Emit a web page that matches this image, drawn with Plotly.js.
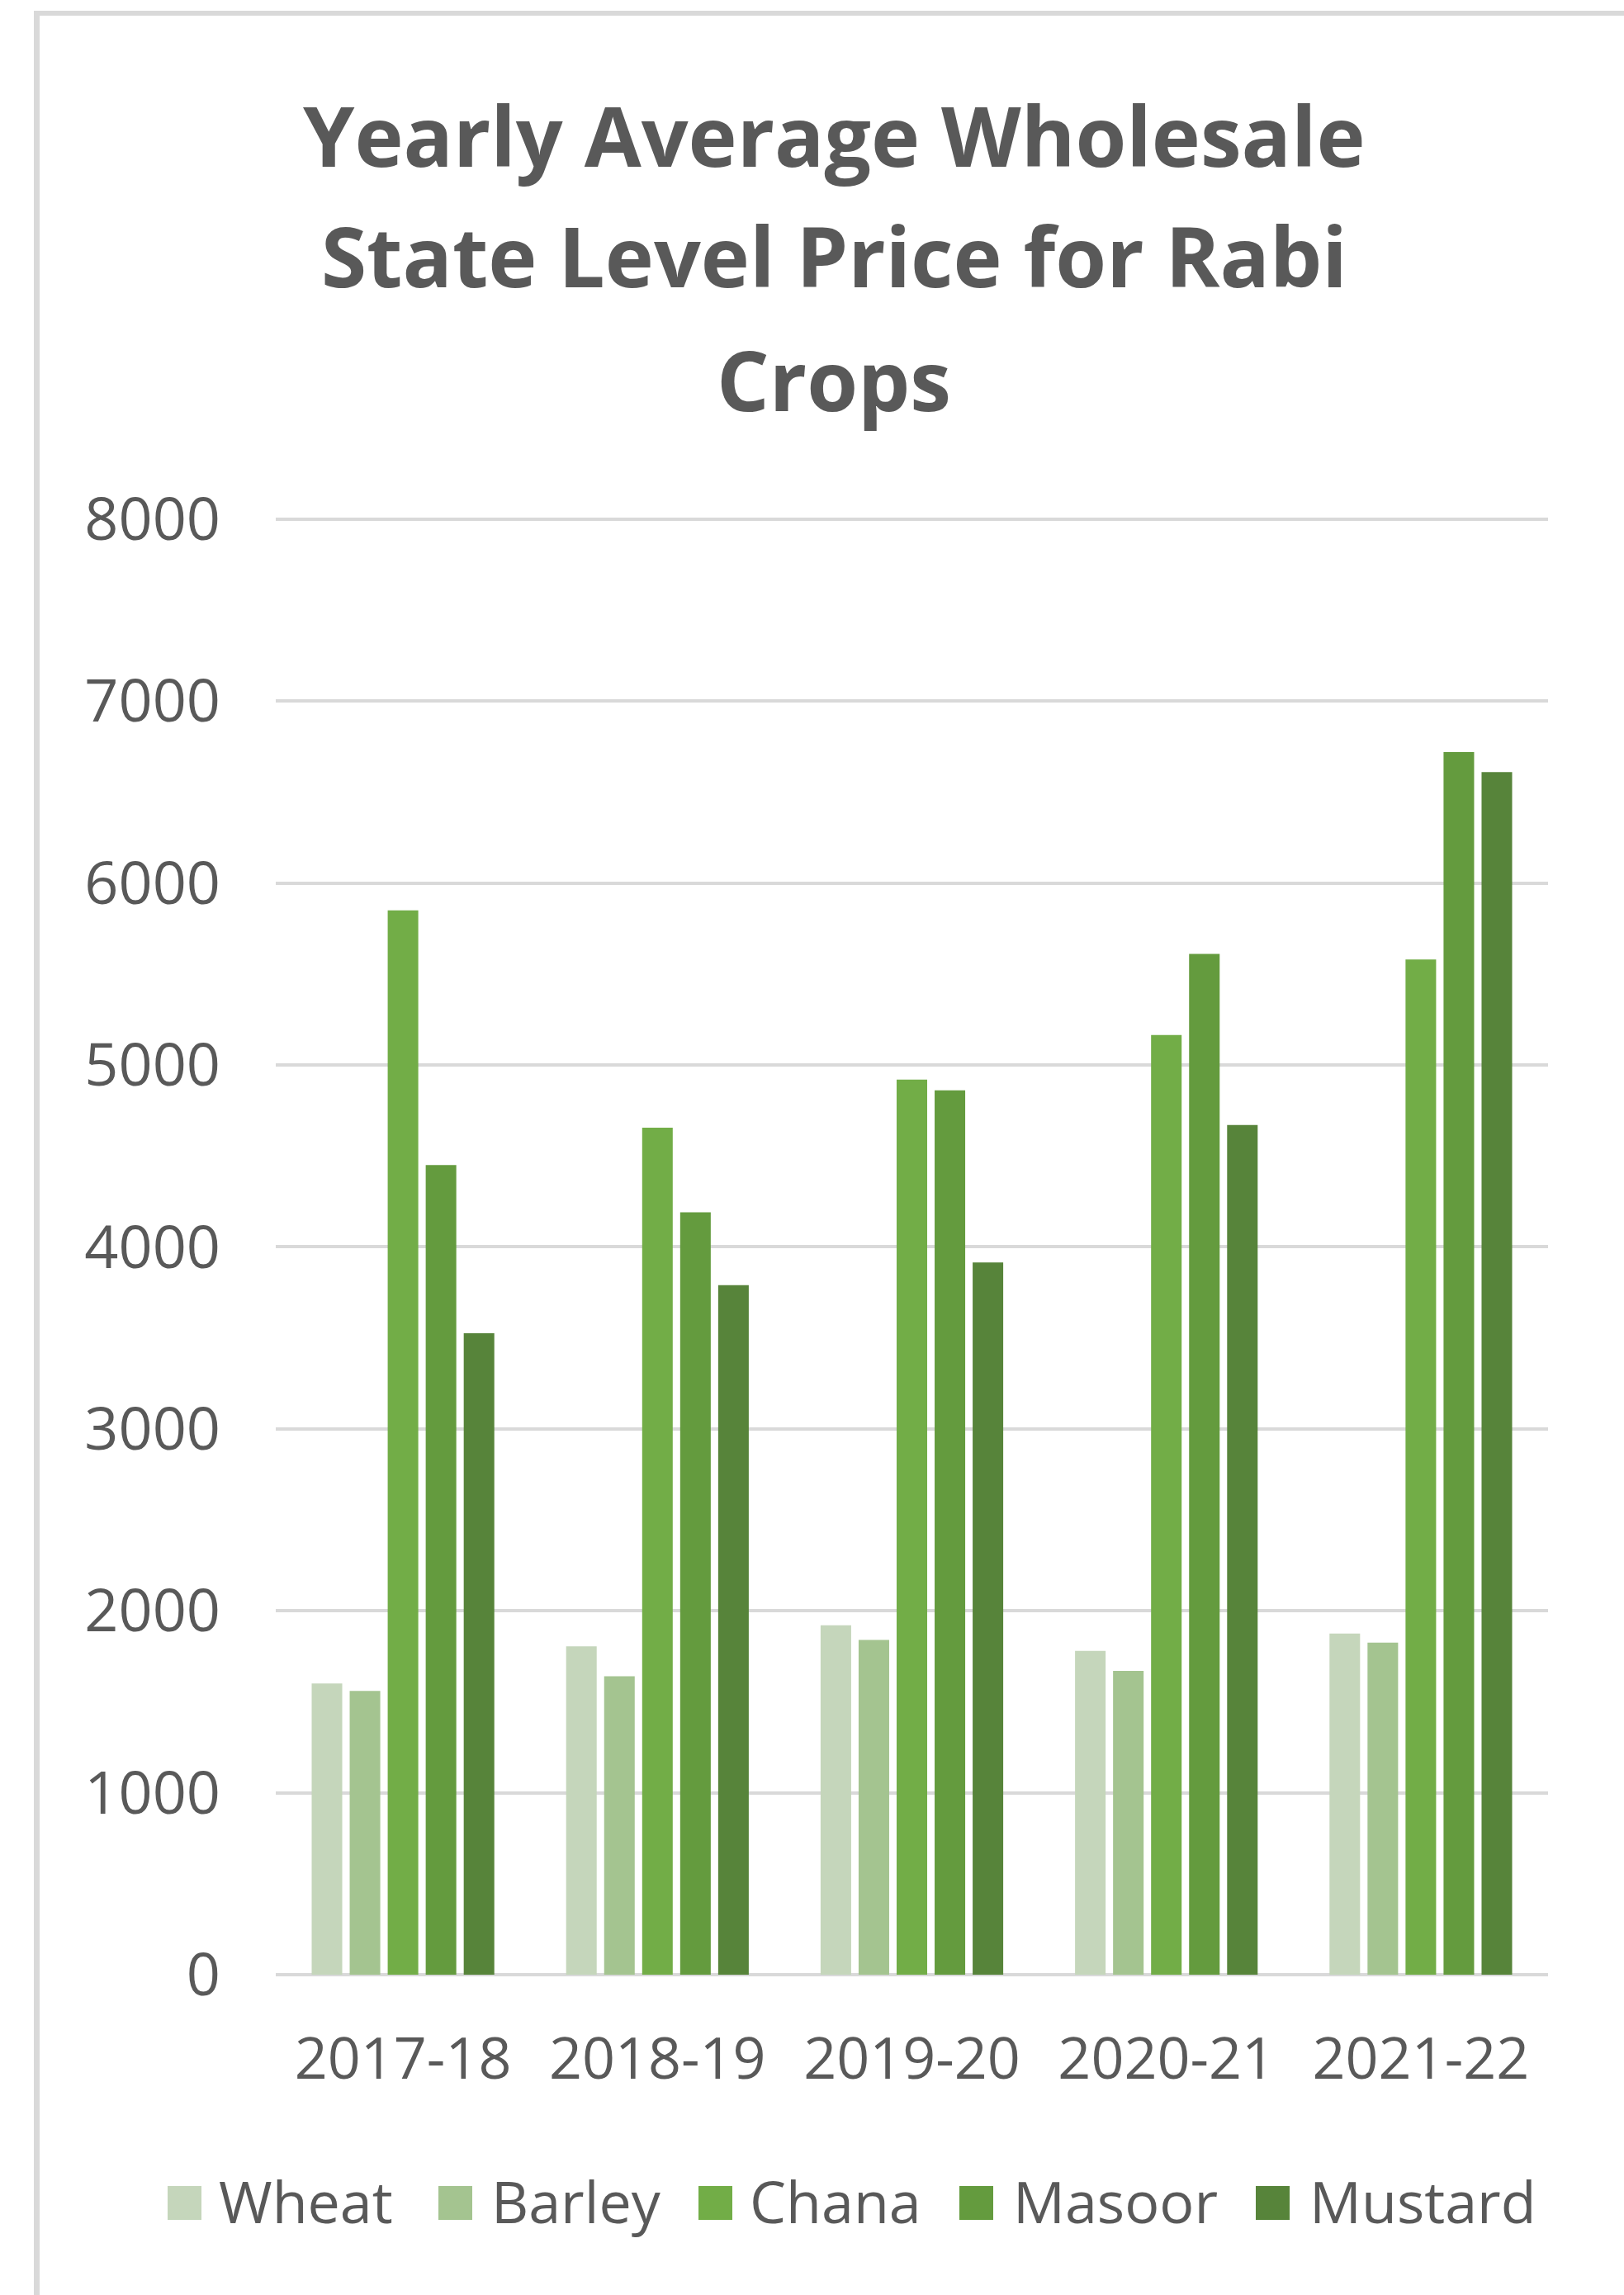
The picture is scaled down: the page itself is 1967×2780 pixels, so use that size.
<!DOCTYPE html>
<html>
<head>
<meta charset="utf-8">
<script src="https://cdn.plot.ly/plotly-3.0.1.min.js"></script>
<style>
  html, body { margin: 0; padding: 0; background: #ffffff; }
  #frame { position: absolute; left: 41px; top: 13px; width: 2000px; height: 2900px;
           border-left: 7px solid #d9d9d9; border-top: 6px solid #d9d9d9; box-sizing: border-box; }
  #chart { position: absolute; left: 0; top: 0; width: 1967px; height: 2780px; }
</style>
</head>
<body>
<div id="frame"></div>
<div id="chart"></div>
<script>
const years = ["2017-18", "2018-19", "2019-20", "2020-21", "2021-22"];
const seriesNames = ["Wheat", "Barley", "Chana", "Masoor", "Mustard"];
const wheat   = [1600, 1805, 1920, 1780, 1875];
const barley  = [1560, 1640, 1840, 1670, 1825];
const chana   = [5850, 4655, 4920, 5165, 5580];
const masoor  = [4450, 4190, 4860, 5610, 6720];
const mustard = [3525, 3790, 3915, 4670, 6610];
const yTicks  = [0, 1000, 2000, 3000, 4000, 5000, 6000, 7000, 8000];
const titleLines = ["Yearly Average Wholesale", "State Level Price for Rabi", "Crops"];
const colors  = ["#c5d6bb", "#a4c490", "#72ad47", "#649b3e", "#57843a"];
const allValues = [wheat, barley, chana, masoor, mustard];

const W = 1967, H = 2780;
const B = 2392, top8000 = 629;
const yMax = 8040;
const T = top8000 - (B - top8000) * (yMax - 8000) / 8000;
const L = 334, R = 1875;
const font = "Open Sans, Noto Sans, sans-serif";
const grey = "#595959";

const traces = seriesNames.map((n, i) => ({
  type: "bar", name: n, x: years, y: allValues[i],
  marker: { color: colors[i], line: { width: 0 } },
  hoverinfo: "x+y+name"
}));

const px2x = p => (p - L) / (R - L);
const px2y = p => (B - p) / (B - T);

const shapes = [], annotations = [];

// title, one annotation per line (reference line spacing)
const titleCenters = [163, 309, 459];
titleLines.forEach((t, i) => {
  annotations.push({ xref: "paper", yref: "paper", x: px2x(1010), y: px2y(titleCenters[i]),
    xanchor: "center", yanchor: "middle", showarrow: false, text: t,
    font: { family: font, size: 100, color: grey, weight: 700 } });
});

// custom legend (large swatches like the reference)
const swatchStarts = [203, 531, 846, 1162, 1521];
const textStarts   = [263, 593, 906, 1225, 1584];
const swTop = 2648, swBot = 2689;
seriesNames.forEach((n, i) => {
  const x0 = swatchStarts[i];
  shapes.push({ type: "rect", xref: "paper", yref: "paper",
    x0: px2x(x0), x1: px2x(x0 + 41), y0: px2y(swBot), y1: px2y(swTop),
    fillcolor: colors[i], line: { width: 0 } });
  annotations.push({ xref: "paper", yref: "paper", x: px2x(textStarts[i]), y: px2y(2666),
    xanchor: "left", yanchor: "middle", showarrow: false, text: n,
    font: { family: font, size: 70, color: grey } });
});

const layout = {
  width: W, height: H,
  paper_bgcolor: "rgba(0,0,0,0)", plot_bgcolor: "rgba(0,0,0,0)",
  margin: { l: L, r: W - R, t: T, b: H - B, pad: 0 },
  showlegend: false,
  barmode: "group", bargap: 0.253, bargroupgap: 0.196,
  xaxis: {
    type: "category", tickfont: { family: font, size: 70, color: grey },
    showgrid: false, showline: false, ticks: "", ticklabelstandoff: 55
  },
  yaxis: {
    range: [0, yMax], tickvals: yTicks, ticktext: yTicks.map(String),
    tickfont: { family: font, size: 72, color: grey },
    showgrid: true, gridcolor: "#d9d9d9", gridwidth: 4,
    zeroline: true, zerolinecolor: "#d9d9d9", zerolinewidth: 4,
    showline: false, ticks: "", ticklabelstandoff: 66
  },
  shapes: shapes, annotations: annotations
};

Plotly.newPlot("chart", traces, layout, { displayModeBar: false, staticPlot: true });
</script>
</body>
</html>
